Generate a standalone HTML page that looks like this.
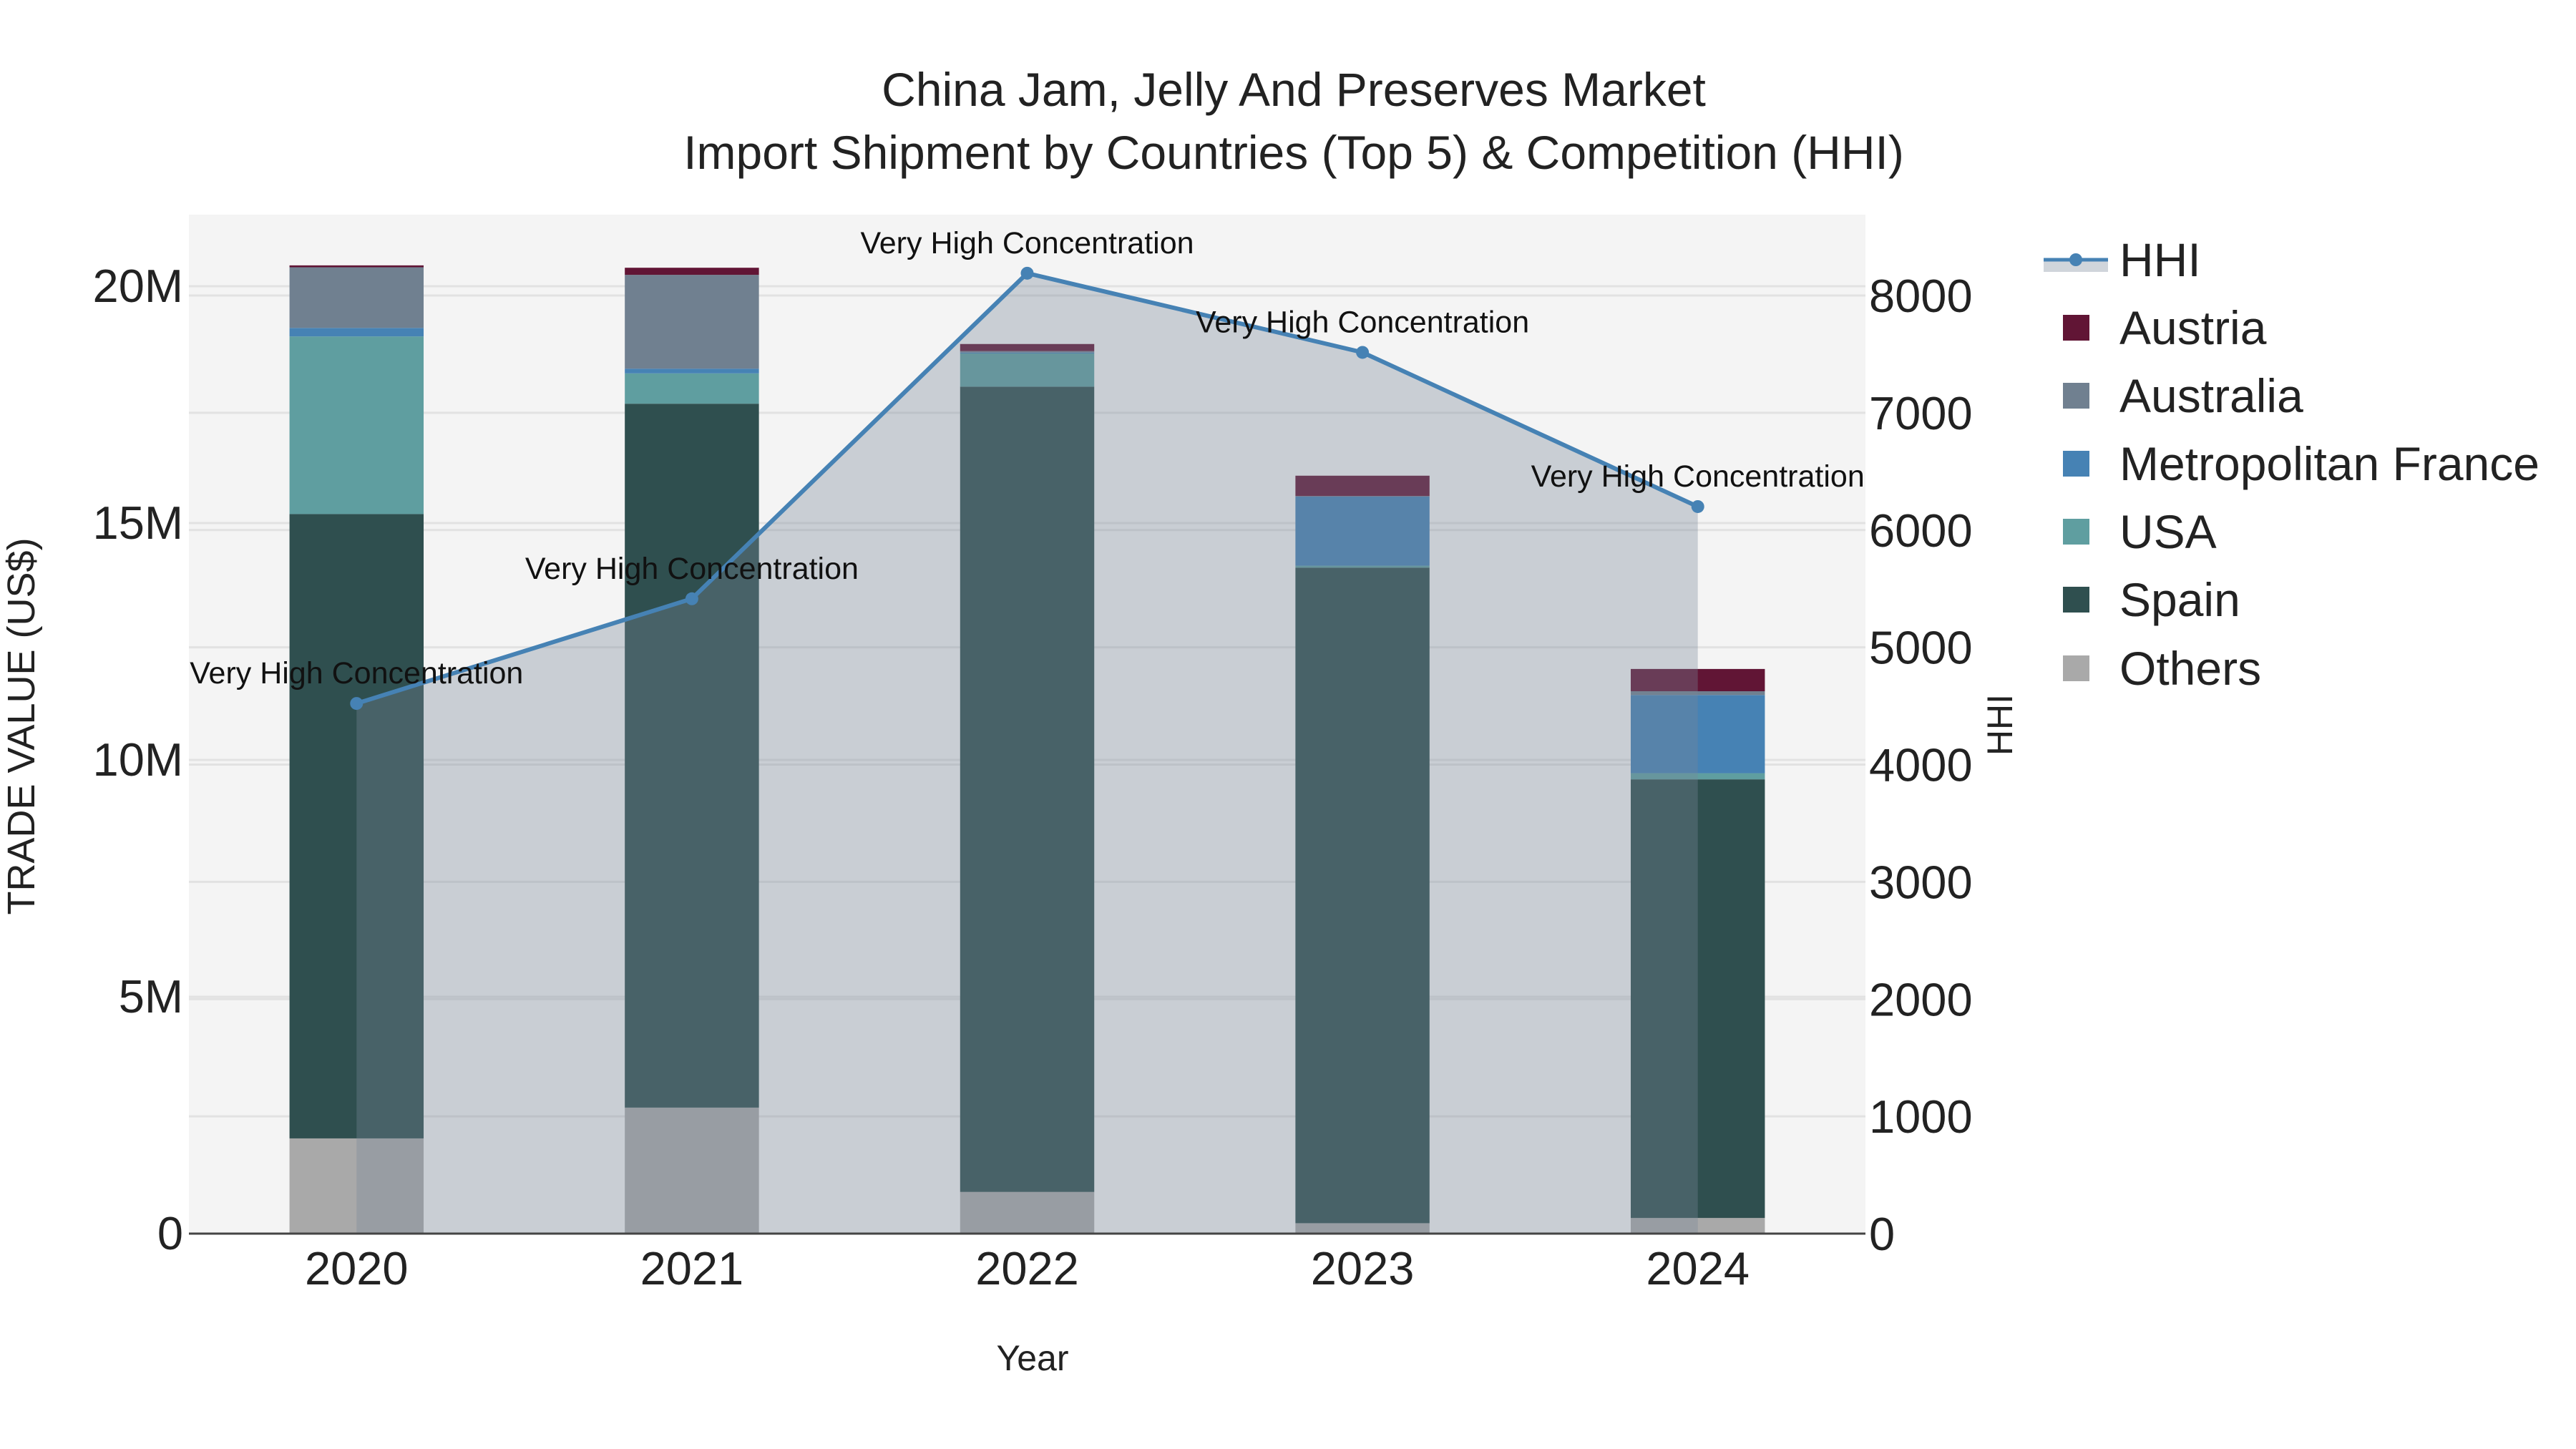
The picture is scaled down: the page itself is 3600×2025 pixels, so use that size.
<!DOCTYPE html>
<html><head><meta charset="utf-8">
<style>
html,body{margin:0;padding:0;background:#fff;}
svg{display:block;font-family:"Liberation Sans",sans-serif;}
</style></head>
<body>
<svg id="chart" width="3600" height="2025" viewBox="0 0 3600 2025" xmlns="http://www.w3.org/2000/svg">
  <rect x="0" y="0" width="3600" height="2025" fill="#ffffff"/>
  <rect x="264" y="300" width="2343" height="1424" fill="#f4f4f4"/>
  <g id="grid"></g>
  <g id="bars"></g>
  <g id="hhi"></g>
  <g id="axes"></g>
  <text x="1808" y="148" font-size="66" text-anchor="middle" fill="#222">China Jam, Jelly And Preserves Market</text>
  <text x="1808" y="236" font-size="66" text-anchor="middle" fill="#222">Import Shipment by Countries (Top 5) &amp; Competition (HHI)</text>
  <text x="1443" y="1915" font-size="50" text-anchor="middle" fill="#222">Year</text>
  <text transform="translate(48,1015) rotate(-90)" font-size="54" text-anchor="middle" fill="#222">TRADE VALUE (US$)</text>
  <text transform="translate(2812,1013) rotate(-90)" font-size="50" text-anchor="middle" fill="#222">HHI</text>
  <g id="legend"></g>
</svg>
<script>
const years = ["2020","2021","2022","2023","2024"];
const others = [2.01, 2.66, 0.88, 0.22, 0.33];
const spain = [13.18, 14.86, 17.0, 13.84, 9.26];
const usa = [3.75, 0.64, 0.70, 0.04, 0.13];
const france = [0.18, 0.10, 0.02, 1.46, 1.65];
const australia = [1.28, 1.98, 0.03, 0.01, 0.08];
const austria = [0.04, 0.15, 0.15, 0.43, 0.47];
const hhi = [4521, 5414, 8190, 7515, 6200];
const leftTicks = [0, 5, 10, 15, 20];
const leftTickLabels = ["0", "5M", "10M", "15M", "20M"];
const rightTicks = [0,1000,2000,3000,4000,5000,6000,7000,8000];

const NS = "http://www.w3.org/2000/svg";
const L = 264, R = 2607, T = 300, B = 1724;
const band = (R - L) / years.length;
const xC = i => L + band * (i + 0.5);
const yL = v => B - v * (1324 / 20);
const yR = v => B - v * (1311 / 8000);
const barW = band * 0.4;

function mk(tag, attrs, parent) {
  const e = document.createElementNS(NS, tag);
  for (const k in attrs) e.setAttribute(k, attrs[k]);
  parent.appendChild(e);
  return e;
}
const grid = document.getElementById('grid');
const bars = document.getElementById('bars');
const hhiG = document.getElementById('hhi');
const axes = document.getElementById('axes');
const legend = document.getElementById('legend');

leftTicks.forEach((t, i) => {
  const y = yL(t);
  if (t > 0) {
    const g = mk('line', {x1: L, x2: R, y1: y, y2: y, stroke: '#e2e2e2', 'stroke-width': 3}, grid);
    
    
  }
  const tx = mk('text', {x: 256, y: y + 22, 'font-size': 65, 'text-anchor': 'end', fill: '#222'}, axes);
  tx.textContent = leftTickLabels[i];
  
  
});
rightTicks.forEach(t => {
  const y = yR(t);
  if (t > 0) {
    const g = mk('line', {x1: L, x2: R, y1: y, y2: y, stroke: '#e2e2e2', 'stroke-width': 3}, grid);
    
    
  }
  const tx = mk('text', {x: 2612, y: y + 23, 'font-size': 65, fill: '#222'}, axes);
  tx.textContent = String(t);
  
  
});

const series = [
  {name: 'Others', vals: others, color: '#a9a9a9'},
  {name: 'Spain', vals: spain, color: '#2f4f4f'},
  {name: 'USA', vals: usa, color: '#5f9ea0'},
  {name: 'Metropolitan France', vals: france, color: '#4682b4'},
  {name: 'Australia', vals: australia, color: '#708090'},
  {name: 'Austria', vals: austria, color: '#611535'}
];
years.forEach((yr, i) => {
  let base = 0;
  series.forEach(s => {
    const v = s.vals[i];
    const y0 = yL(base), y1 = yL(base + v);
    const r = mk('rect', {x: xC(i) - barW / 2, y: y1, width: barW, height: Math.max(0, y0 - y1), fill: s.color}, bars);
    
    
    base += v;
  });
  const tx = mk('text', {x: xC(i), y: 1795, 'font-size': 65, 'text-anchor': 'middle', fill: '#222'}, axes);
  tx.textContent = yr;
  
  
});

// HHI area + line
let d = 'M' + xC(0) + ',' + B;
hhi.forEach((v, i) => { d += ' L' + xC(i) + ',' + yR(v); });
d += ' L' + xC(hhi.length - 1) + ',' + B + ' Z';
const area = mk('path', {d: d, fill: 'rgba(119,136,153,0.35)'}, hhiG);


const pts = hhi.map((v, i) => xC(i) + ',' + yR(v)).join(' ');
const line = mk('polyline', {points: pts, fill: 'none', stroke: '#4682b4', 'stroke-width': 6}, hhiG);


hhi.forEach((v, i) => {
  const c = mk('circle', {cx: xC(i), cy: yR(v), r: 9, fill: '#4682b4'}, hhiG);
  
  
  const a = mk('text', {x: xC(i), y: yR(v) - 28, 'font-size': 43, 'text-anchor': 'middle', fill: '#111'}, hhiG);
  a.textContent = 'Very High Concentration';
  
  
});

const zl = mk('line', {x1: L, x2: R, y1: B, y2: B, stroke: '#444', 'stroke-width': 3}, axes);



// legend
const lgY = [363, 458, 553, 648, 743, 838, 934];
const hl = mk('rect', {x: 2856, y: 363, width: 90, height: 17, fill: 'rgba(119,136,153,0.35)'}, legend);


const hln = mk('line', {x1: 2856, x2: 2946, y1: 363, y2: 363, stroke: '#4682b4', 'stroke-width': 5}, legend);


const hc = mk('circle', {cx: 2901, cy: 363, r: 9, fill: '#4682b4'}, legend);


const ht = mk('text', {x: 2962, y: 386, 'font-size': 66, fill: '#222'}, legend);
ht.textContent = 'HHI';


series.slice().reverse().forEach((s, k) => {
  const y = lgY[k + 1];
  const sw = mk('rect', {x: 2883, y: y - 18, width: 37, height: 36, fill: s.color}, legend);
  
  
  const t = mk('text', {x: 2962, y: y + 23, 'font-size': 66, fill: '#222'}, legend);
  t.textContent = s.name;
  
  
});
</script>
</body></html>
